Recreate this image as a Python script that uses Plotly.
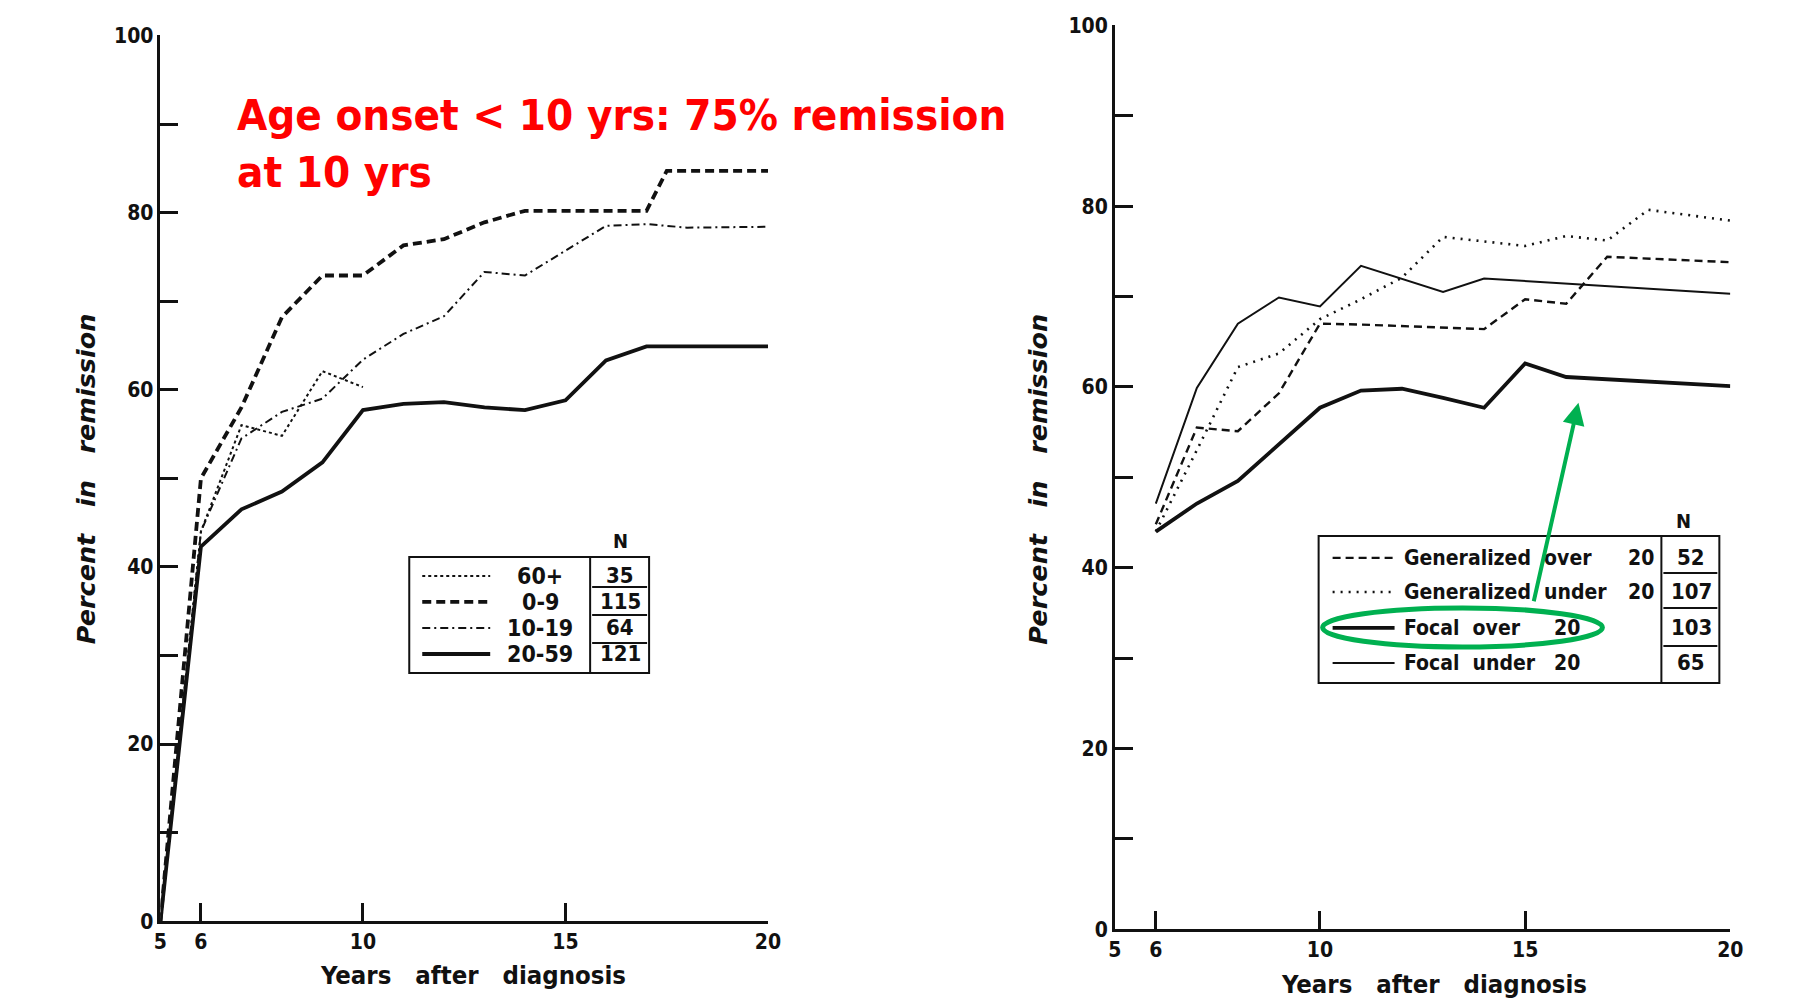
import plotly.graph_objects as go

# Layout positions below are given in screenshot pixels (1803x998) and mapped
# to figure pixels with the measured page-to-screenshot transform.
W, H = 1803, 1030
AX, BX = 0.9896, 4.46
AY, BY = 0.9758, 11.6

# ---------------- data (left panel: age at onset) ----------------
x_0_9 = [5, 6, 7, 8, 9, 10, 11, 12, 13, 14, 17, 17.5, 20]
y_0_9 = [0, 50, 58, 68.2, 72.9, 72.9, 76.3, 77, 78.9, 80.2, 80.2, 84.7, 84.7]

x_10_19 = [5, 6, 7, 8, 9, 10, 11, 12, 13, 14, 16, 17, 18, 20]
y_10_19 = [0, 44, 54.5, 57.5, 59, 63.4, 66.3, 68.3, 73.3, 72.9, 78.5, 78.7, 78.3, 78.4]

x_60p = [5, 6, 7, 8, 9, 10]
y_60p = [0, 44, 56, 54.8, 62.1, 60.3]

x_20_59 = [5, 6, 7, 8, 9, 10, 11, 12, 13, 14, 15, 16, 17, 20]
y_20_59 = [0, 42.3, 46.5, 48.5, 51.8, 57.7, 58.4, 58.6, 58, 57.7, 58.8, 63.3, 64.9, 64.9]

left_labels = ["60+", "0-9", "10-19", "20-59"]
left_n = ["35", "115", "64", "121"]

# ---------------- data (right panel: seizure type) ----------------
x_gen_over = [6, 7, 8, 9, 10, 11, 14, 15, 16, 17, 20]
y_gen_over = [44.8, 55.5, 55.1, 59.3, 67, 66.9, 66.4, 69.7, 69.2, 74.4, 73.8]

x_gen_under = [6, 7, 8, 9, 10, 11, 12, 13, 14, 15, 16, 17, 18, 20]
y_gen_under = [44, 53, 62.2, 63.7, 67.5, 69.7, 72.1, 76.6, 76.1, 75.6, 76.7, 76.2, 79.6, 78.4]

x_focal_over = [6, 7, 8, 9, 10, 11, 12, 13, 14, 15, 16, 20]
y_focal_over = [44, 47.1, 49.6, 53.7, 57.7, 59.6, 59.8, 58.8, 57.7, 62.6, 61.1, 60.1]

x_focal_under = [6, 7, 8, 9, 10, 11, 13, 14, 20]
y_focal_under = [47.1, 59.9, 67, 69.9, 68.9, 73.4, 70.5, 72, 70.3]

right_labels = ["Generalized  over", "Generalized  under", "Focal  over", "Focal  under"]
right_ages = ["20", "20", "20", "20"]
right_n = ["52", "107", "103", "65"]

x_tickvals = [5, 6, 10, 15, 20]
x_ticktext = ["5", "6", "10", "15", "20"]
y_tickvals = [0, 10, 20, 30, 40, 50, 60, 70, 80, 90, 100]
y_ticktext = ["0", "", "20", "", "40", "", "60", "", "80", "", "100"]

annotation_text = "Age onset < 10 yrs: 75% remission<br>at 10 yrs"

# ---------------- styling ----------------
FONT = "Liberation Sans Narrow, DejaVu Sans Condensed, Arial Narrow, sans-serif"
INK = "#111111"
GREEN = "#00b050"


def px(x):
    return ((x - BX) / AX) / W


def py(y):
    return 1 - ((y - BY) / AY) / H


fig = go.Figure()

left_series = [
    (x_60p, y_60p, "dot", 2.0),
    (x_0_9, y_0_9, "9px,5px", 3.8),
    (x_10_19, y_10_19, "8px,4px,2px,4px", 2.0),
    (x_20_59, y_20_59, "solid", 3.8),
]
for (xs, ys, dash, w), name in zip(left_series, left_labels):
    fig.add_trace(go.Scatter(x=xs, y=ys, mode="lines", name=name,
                             line=dict(color=INK, width=w, dash=dash),
                             xaxis="x", yaxis="y", showlegend=False))

right_series = [
    (x_gen_over, y_gen_over, "8px,5px", 2.4),
    (x_gen_under, y_gen_under, "2px,6px", 2.6),
    (x_focal_over, y_focal_over, "solid", 3.8),
    (x_focal_under, y_focal_under, "solid", 2.0),
]
for (xs, ys, dash, w), name in zip(right_series, right_labels):
    fig.add_trace(go.Scatter(x=xs, y=ys, mode="lines", name=name,
                             line=dict(color=INK, width=w, dash=dash),
                             xaxis="x2", yaxis="y2", showlegend=False))

tickfont = dict(family=FONT, size=21, color=INK, weight="bold")
axis_common = dict(showgrid=False, zeroline=False, showline=True, linecolor=INK,
                   linewidth=2.5, ticks="inside", tickcolor=INK, tickwidth=2.5,
                   ticklen=18, tickfont=tickfont)

fig.update_layout(
    width=W, height=H, margin=dict(l=0, r=0, t=0, b=0),
    paper_bgcolor="white", plot_bgcolor="white",
    xaxis=dict(domain=[px(158), px(766)], range=[5, 20], anchor="y",
               tickvals=x_tickvals, ticktext=x_ticktext, **axis_common),
    yaxis=dict(domain=[py(920), py(35)], range=[0, 100], anchor="x",
               tickvals=y_tickvals, ticktext=y_ticktext, **axis_common),
    xaxis2=dict(domain=[px(1113), px(1729)], range=[5, 20], anchor="y2",
                tickvals=x_tickvals, ticktext=x_ticktext, **axis_common),
    yaxis2=dict(domain=[py(928), py(25)], range=[0, 100], anchor="x2",
                tickvals=y_tickvals, ticktext=y_ticktext, **axis_common),
)

shapes = []
annotations = []


def txt(x, y, s, size=20, xanchor="center", yanchor="middle", color=INK, **kw):
    annotations.append(dict(xref="paper", yref="paper", x=px(x), y=py(y), text=s,
                            showarrow=False, xanchor=xanchor, yanchor=yanchor,
                            font=dict(family=FONT, size=size, color=color, weight="bold"),
                            **kw))


def line(x0, y0, x1, y1, w=2, dash="solid", color=INK):
    shapes.append(dict(type="line", xref="paper", yref="paper", x0=px(x0), y0=py(y0),
                       x1=px(x1), y1=py(y1), line=dict(color=color, width=w, dash=dash)))


def rect(x0, y0, x1, y1, w=2):
    shapes.append(dict(type="rect", xref="paper", yref="paper", x0=px(x0), y0=py(y0),
                       x1=px(x1), y1=py(y1), line=dict(color=INK, width=w)))


# axis titles
for xx, yy in [(83, 478), (1036, 478)]:
    annotations.append(dict(xref="paper", yref="paper", x=px(xx), y=py(yy),
                            text="Percent\u00a0\u00a0\u00a0in\u00a0\u00a0\u00a0remission",
                            showarrow=False, textangle=-90, xanchor="center", yanchor="middle",
                            font=dict(family="DejaVu Sans, sans-serif", size=25.5, color=INK,
                                      weight="bold", style="italic")))
txt(471, 974, "Years\u00a0\u00a0\u00a0after\u00a0\u00a0\u00a0diagnosis", size=25.5)
txt(1432, 983, "Years\u00a0\u00a0\u00a0after\u00a0\u00a0\u00a0diagnosis", size=25.5)

# left legend
rect(407, 556, 647, 672)
line(588, 556, 588, 672)
for yy in [586, 614, 642]:
    line(590, yy, 645, yy, w=2)
left_rows_y = [575, 601, 627, 653]
for (xs, ys, dash, w), lab, n, yy in zip(left_series, left_labels, left_n, left_rows_y):
    line(420, yy, 488, yy, w=w, dash=dash)
    txt(538, yy, lab, size=23)
    txt(618, yy, n, size=22)
txt(618, 540, "N", size=20)

# right legend
rect(1317, 535, 1718, 682)
line(1660, 535, 1660, 682)
for yy in [572, 607, 645]:
    line(1662, yy, 1716, yy, w=2)
right_rows_y = [557, 591, 627, 662]
age_x = [1640, 1640, 1566, 1566]
for (xs, ys, dash, w), lab, a, ax_, n, yy in zip(right_series, right_labels, right_ages, age_x,
                                                   right_n, right_rows_y):
    line(1331, yy, 1393, yy, w=w, dash=dash)
    txt(1400, yy, lab.replace(" ", "\u00a0"), size=21, xanchor="left")
    txt(ax_, yy, a, size=21)
    txt(1690, yy, n, size=22)
txt(1682, 520, "N", size=20)

# red annotation
annotations.append(dict(xref="paper", yref="paper", x=px(233), y=py(88), text=annotation_text,
                        showarrow=False, xanchor="left", yanchor="top", align="left",
                        font=dict(family=FONT, size=43.5, color="#ff0000", weight="bold")))

# green ellipse and arrow
shapes.append(dict(type="circle", xref="paper", yref="paper", x0=px(1321), x1=px(1601),
                   y0=py(646), y1=py(607), line=dict(color=GREEN, width=5)))
annotations.append(dict(xref="paper", yref="paper", x=px(1577), y=py(402), text="",
                        showarrow=True, arrowhead=2, arrowsize=1.1, arrowwidth=4,
                        arrowcolor=GREEN, ax=-45, ay=200, axref="pixel", ayref="pixel"))

fig.update_layout(shapes=shapes, annotations=annotations)
fig.write_html("out.html")
